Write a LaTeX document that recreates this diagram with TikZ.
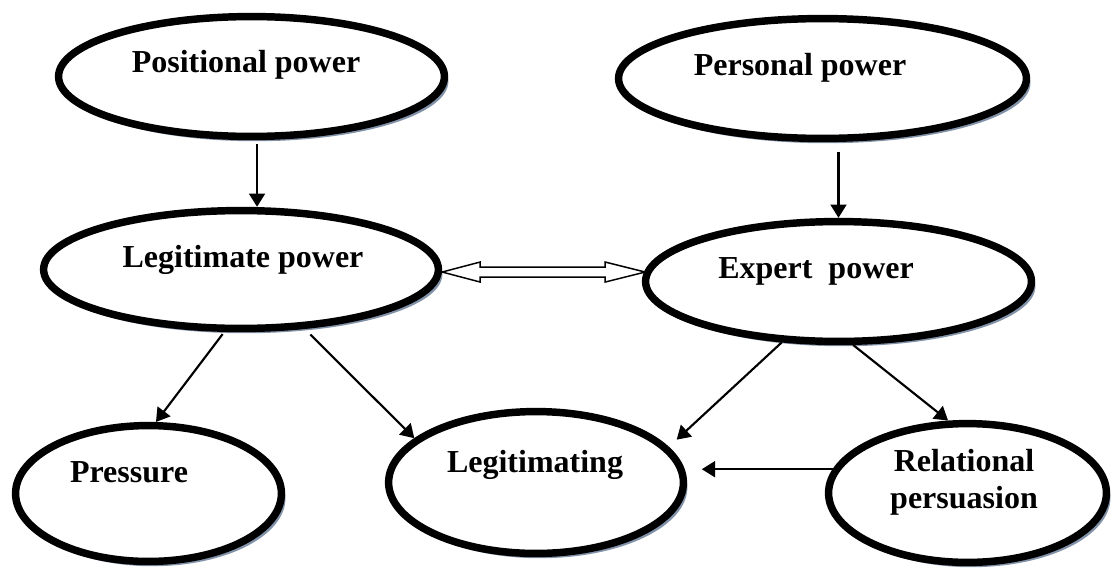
\documentclass[tikz,border=0pt]{standalone}
\usepackage{fontspec}
\setmainfont{Liberation Serif}
\usetikzlibrary{shapes.geometric,shadows,arrows.meta}
\definecolor{shadowc}{RGB}{130,146,168}
\tikzset{
  oval/.style={ellipse, draw=black, line width=5.6pt, fill=white, inner sep=0pt,
    drop shadow={shadow xshift=3pt, shadow yshift=-3.6pt, fill=shadowc, opacity=1}},
  lbl/.style={font=\fontsize{24}{27.75}\selectfont\bfseries, inner sep=0pt, anchor=base},
  arr/.style={line width=1.6pt, -{Triangle[length=10pt,width=12pt]}},
  hollow/.style={line width=1.1pt, fill=white, line join=miter},
}
\begin{document}
\begin{tikzpicture}[x=0.75pt,y=-0.75pt]
\useasboundingbox (0,0) rectangle (1113,571);
% ellipses
\node[oval, minimum width=289.4pt, minimum height=89.9pt] (pos) at (251.5,76.5) {};
\node[oval, minimum width=305.9pt, minimum height=89.9pt] (per) at (822.5,78.5) {};
\node[oval, minimum width=296.1pt, minimum height=88.4pt] (lp) at (241,269.5) {};
\node[oval, minimum width=289.4pt, minimum height=89.9pt] (ep) at (838.5,281.5) {};
\node[oval, minimum width=199.4pt, minimum height=101.9pt] (pr) at (148.5,493.5) {};
\node[oval, minimum width=221.1pt, minimum height=106.4pt] (lg) at (536,482.5) {};
\node[oval, minimum width=208.4pt, minimum height=104.1pt] (rp) at (967.5,493) {};
% labels
\node[lbl] (tpos) at (246,72) {Positional power};
\node[lbl] (tper) at (800,75) {Personal power};
\node[lbl] (tlp) at (243,267) {Legitimate power};
\node[lbl] (tep) at (816,278) {Expert\ \ power};
\node[lbl] (tpr) at (129,482) {Pressure};
\node[lbl] (tlg) at (535,472) {Legitimating};
\node[lbl, anchor=center, align=center] (trp) at (964,482) {Relational\\persuasion};
% connectors
\draw[arr, shorten <=3pt] (pos.-85) -- (pos.-85 |- lp.north);
\draw[arr, shorten <=7pt] (per.south -| ep.north) -- (ep.north);
\draw[arr, shorten <=2pt] (lp.255.6) -- (pr.84.8);
\draw[arr, shorten <=6pt] (lp.-43.8) -- (lg.160.6);
\draw[arr, shorten >=8pt] (ep.227.1) -- (lg.15.9);
\draw[arr] (ep.-77.1) -- (rp.105.9);
\draw[arr, shorten >=11pt] (rp.170.8) -- (rp.170.8 -| lg.east);
% double hollow arrow
\draw[hollow] ([yshift=-1.9pt]lp.east) -- ++(38,-10) -- ++(0,5) -- ++(125,0) -- ++(0,-5)
  -- ++(40,10) -- ++(-40,10) -- ++(0,-5) -- ++(-125,0) -- ++(0,5) -- cycle;
\end{tikzpicture}
\end{document}
